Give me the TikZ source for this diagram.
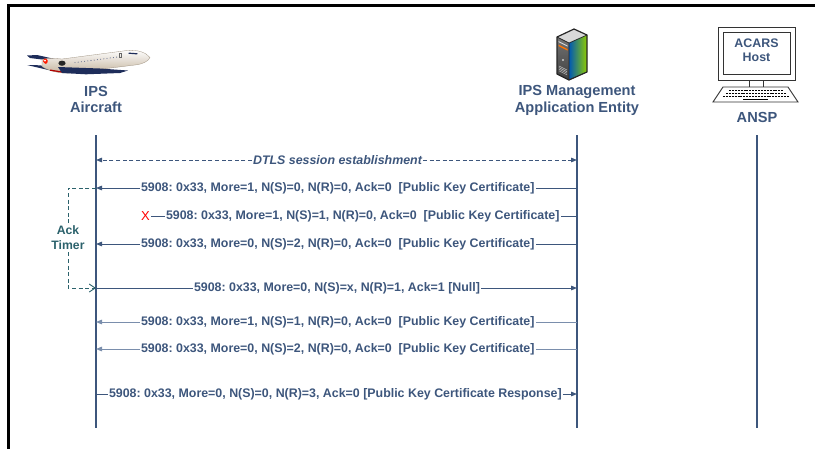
\documentclass[tikz,border=0pt]{standalone}
\usepackage{fontspec}
\setmainfont{Liberation Sans}
\usetikzlibrary{arrows.meta}
\definecolor{ink}{RGB}{61,86,124}
\definecolor{softink}{RGB}{122,142,172}
\definecolor{timer}{RGB}{44,98,108}
\definecolor{navy}{RGB}{30,45,90}
\definecolor{cream}{RGB}{238,230,214}
\definecolor{tan}{RGB}{196,180,158}
\frenchspacing
\begin{document}
\begin{tikzpicture}[x=1pt,y=-1pt,
  lifeline/.style={draw=ink,line width=2.6pt},
  msgtext/.style={text=ink,font=\fontsize{12.4}{14}\selectfont\bfseries,inner sep=0.8pt},
  head/.style={text=ink,font=\fontsize{14.6}{16.8}\selectfont\bfseries,align=center},
  msg/.style={draw=ink,line width=0.95pt},
  softmsg/.style={draw=softink,line width=0.95pt},
  tipend/.style={-{Triangle[length=6pt,width=4.6pt]}},
  dashline/.style={dash pattern=on 4pt off 2.6pt},
]
\useasboundingbox (0,0) rectangle (815,448);

% frame
\draw[line width=2.6pt] (8.3,450) -- (8.3,5.3) -- (816,5.3);

% ---------- aircraft ----------
\fill[navy] (27,55.5) -- (37,55) -- (57,59.5) -- (52,60.8) -- (30,58) -- cycle;
\fill[navy] (27,65) -- (40,65.3) -- (57,69.6) -- (50,70.4) -- cycle;
\shade[top color=white,bottom color=tan,draw=tan!80!black,line width=0.3pt]
  (42,59.5) .. controls (48,57.5) and (55,58.5) .. (62,59) -- (127,50.5)
  .. controls (138,49.5) and (146,52.5) .. (150,57.5)
  .. controls (148,61.5) and (143,64) .. (135,65) -- (70,73)
  .. controls (58,73.5) and (48,70.5) .. (42,66.5) -- cycle;
\fill[red!80!orange] (44,58.5) .. controls (48,58) and (49,62) .. (46,64) .. controls (43,63) and (42,60) .. (44,58.5) -- cycle;
\fill[white] (45,60.5) circle (1pt);
\fill[red!70!black] (50,69.5) -- (64,71.7) -- (64,72.9) -- (50,70.8) -- cycle;
\fill[navy] (58,67) -- (100,68.5) -- (128,70.5) -- (120,73) -- (86,74.3) -- (62,73) -- cycle;
\fill[black!85] (62,63.2) ellipse (3.6pt and 2.6pt);
\foreach \i in {0,...,13} \fill[navy!70] ({75+\i*3.2},{62.6-\i*0.42}) circle (0.55pt);
\draw[black!60,line width=0.4pt] (119,53.2) rectangle (121.5,57.6);
\draw[navy,line width=1.2pt,line cap=round] (129,53.2) -- (137,53.8);

% ---------- server ----------
\begin{scope}[line join=round]
  \fill[gray!30] (557,37) -- (574,29) -- (587,35) -- (569,43) -- cycle;
  \shade[top color=black!55,bottom color=black!75] (557,37) -- (569,43) -- (569,80) -- (557,74) -- cycle;
  \shade[left color=cyan!50!blue!70!black,right color=yellow!70!green!80!black] (569,43) -- (587,35) -- (587,72) -- (569,80) -- cycle;
  \fill[orange!90!red] (558.5,44.5) -- (567.5,49) -- (567.5,50.6) -- (558.5,46.1) -- cycle;
  \fill[white!85!black] (558.5,41) -- (567.5,45.5) -- (567.5,46.6) -- (558.5,42.1) -- cycle;
  \fill[white!80!black] (563,60) circle (1.1pt);
  \foreach \k in {0,...,3}
    \draw[white!75!black,line width=0.5pt] (559,{66+\k*1.6}) -- (567,{70+\k*1.6});
  \draw[black!85,line width=1.2pt] (557,37) -- (574,29) -- (587,35) -- (587,72) -- (569,80) -- (557,74) -- cycle;
  \draw[black!85,line width=0.7pt] (557,37) -- (569,43) -- (587,35) (569,43) -- (569,80);
\end{scope}

% ---------- ACARS host terminal ----------
\draw[black!80,line width=0.9pt,fill=white] (718,27) rectangle (795,80);
\draw[black!80,line width=0.9pt] (723.3,32.3) rectangle (790,74);
\draw[black!80,line width=0.9pt,fill=white] (749,80) rectangle (763,87);
\draw[black!80,line width=0.9pt,fill=white] (723,87) -- (788,87) -- (798,102) -- (713,102) -- cycle;
\foreach \r/\a/\b in {90.5/729/783, 93.5/726/786, 96.5/723/789}
  \draw[black,line width=1.9pt,dash pattern=on 2pt off 0.9pt] (\a,\r) -- (\b,\r);
\draw[black,line width=1.6pt] (743,99.5) -- (768,99.5);

% ---------- headings ----------
\node[head] (acHead)  at (96,99.5)   {IPS\\Aircraft};
\node[head] (ipsHead) at (577,100.5) {IPS Management\\Application Entity};
\node[head] (anspHead) at (757,117)  {ANSP};
\node[text=ink,font=\fontsize{12.4}{14.5}\selectfont\bfseries,align=center] (acars) at (756.5,50.3) {ACARS\\Host};

% ---------- lifelines ----------
\coordinate (acTop)   at (96,135);   \coordinate (acBot)   at (96,428);
\coordinate (ipsTop)  at (577,135);  \coordinate (ipsBot)  at (577,428);
\coordinate (anspTop) at (757,135);  \coordinate (anspBot) at (757,428);
\draw[lifeline] (acTop) -- (acBot);
\draw[lifeline] (ipsTop) -- (ipsBot);
\draw[lifeline] (anspTop) -- (anspBot);

% anchor points on the lifelines
\foreach \n/\y in {1/160,2/188,3/216,4/244,5/288,6/322,7/349,8/394}{
  \coordinate (a\n) at (96,\y);
  \coordinate (m\n) at (577,\y);
}

% ---------- messages ----------
\node[msgtext,font=\fontsize{12.4}{14}\selectfont\bfseries\itshape] (t1) at (337.5,160) {DTLS session establishment};
\draw[draw=ink,line width=0.95pt,dashline,tipend] (t1.west) -- (a1);
\draw[draw=ink,line width=0.95pt,dashline,tipend] (t1.east) -- (m1);

\node[msgtext,anchor=west] (t2) at (140,188) {5908: 0x33, More=1, N(S)=0, N(R)=0, Ack=0\ \ [Public Key Certificate]};
\draw[msg] (m2) -- (t2.east);
\draw[msg,tipend] (t2.west) -- (a2);

\node[text=red,font=\fontsize{13}{14}\selectfont,inner sep=0.5pt] (x3) at (145.5,216) {X};
\node[msgtext,anchor=west] (t3) at (165,216) {5908: 0x33, More=1, N(S)=1, N(R)=0, Ack=0\ \ [Public Key Certificate]};
\draw[msg] (m3) -- (t3.east);
\draw[msg] (t3.west) -- (x3.east);

\node[msgtext,anchor=west] (t4) at (140,244) {5908: 0x33, More=0, N(S)=2, N(R)=0, Ack=0\ \ [Public Key Certificate]};
\draw[msg] (m4) -- (t4.east);
\draw[msg,tipend] (t4.west) -- (a4);

\node[msgtext,anchor=west] (t5) at (193,288) {5908: 0x33, More=0, N(S)=x, N(R)=1, Ack=1 [Null]};
\draw[msg] (a5) -- (t5.west);
\draw[msg,tipend] (t5.east) -- (m5);

\node[msgtext,anchor=west] (t6) at (140,322) {5908: 0x33, More=1, N(S)=1, N(R)=0, Ack=0\ \ [Public Key Certificate]};
\draw[softmsg] (m6) -- (t6.east);
\draw[softmsg,tipend] (t6.west) -- (a6);

\node[msgtext,anchor=west] (t7) at (140,349) {5908: 0x33, More=0, N(S)=2, N(R)=0, Ack=0\ \ [Public Key Certificate]};
\draw[softmsg] (m7) -- (t7.east);
\draw[softmsg,tipend] (t7.west) -- (a7);

\node[msgtext,anchor=west] (t8) at (108,394) {5908: 0x33, More=0, N(S)=0, N(R)=3, Ack=0 [Public Key Certificate Response]};
\draw[msg] (a8) -- (t8.west);
\draw[msg,tipend] (t8.east) -- (m8);

% ---------- acknowledgement timer ----------
\coordinate (timerTop) at (68,188);
\coordinate (timerBot) at (68,288);
\draw[draw=timer,line width=0.9pt,dashline,-{Straight Barb[length=6pt,width=8pt]}]
  (a2) -- (timerTop) -- (timerBot) -- (a5);
\node[fill=white,text=timer,font=\fontsize{12.2}{15}\selectfont\bfseries,align=center,inner sep=1pt] (timer) at (68,237.5) {Ack\\Timer};
\end{tikzpicture}
\end{document}
